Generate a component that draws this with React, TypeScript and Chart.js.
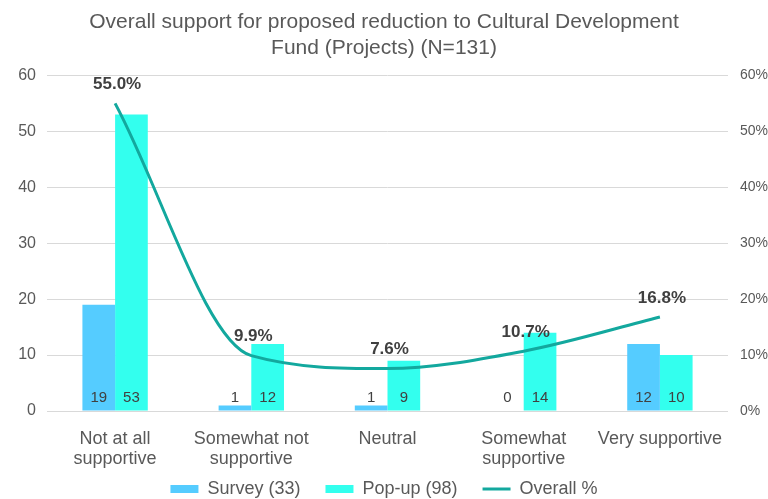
import React, { useEffect, useRef } from "react";
import { Chart, registerables } from "chart.js";

Chart.register(...registerables);

const categories: (string | string[])[] = [
  ["Not at all", "supportive"],
  ["Somewhat not", "supportive"],
  "Neutral",
  ["Somewhat", "supportive"],
  "Very supportive",
];
const surveyValues = [19, 1, 1, 0, 12];
const popupValues = [53, 12, 9, 14, 10];
const overallPct = [55.0, 9.9, 7.6, 10.7, 16.8];
const titleLines = [
  "Overall support for proposed reduction to Cultural Development",
  "Fund (Projects) (N=131)",
];

const FONT = "'Liberation Sans', Arial, sans-serif";
const GRAY = "#595959";
const DARK = "#404040";

const labelsPlugin = {
  id: "valueLabels",
  afterDatasetsDraw(chart: any) {
    const ctx = chart.ctx;
    ctx.save();
    ctx.textAlign = "center";
    ctx.textBaseline = "middle";
    [0, 1].forEach((di) => {
      const meta = chart.getDatasetMeta(di);
      const ds = chart.data.datasets[di];
      ctx.font = `15px ${FONT}`;
      ctx.fillStyle = DARK;
      meta.data.forEach((el: any, i: number) => {
        ctx.fillText(String(ds.data[i]), el.x, el.base - 13);
      });
    });
    const lm = chart.getDatasetMeta(2);
    const lds = chart.data.datasets[2];
    ctx.font = `bold 17px ${FONT}`;
    ctx.fillStyle = DARK;
    lm.data.forEach((el: any, i: number) => {
      ctx.fillText((lds.data[i] as number).toFixed(1) + "%", el.x + 2, el.y - 19);
    });
    ctx.restore();
  },
};

export default function App() {
  const ref = useRef<HTMLCanvasElement>(null);
  useEffect(() => {
    document.body.style.margin = "0";
    const chart = new Chart(ref.current!, {
      type: "bar",
      data: {
        labels: categories,
        datasets: [
          {
            type: "bar",
            label: "Survey (33)",
            data: surveyValues,
            backgroundColor: "#55CCFF",
            borderWidth: 0,
            yAxisID: "y",
            pointStyle: "rect",
            order: 2,
          } as any,
          {
            type: "bar",
            label: "Pop-up (98)",
            data: popupValues,
            backgroundColor: "#33FFEE",
            borderWidth: 0,
            yAxisID: "y",
            pointStyle: "rect",
            order: 2,
          } as any,
          {
            type: "line",
            label: "Overall %",
            data: overallPct,
            borderColor: "#13A89E",
            backgroundColor: "#13A89E",
            borderWidth: 3,
            pointRadius: 0,
            pointStyle: "line",
            cubicInterpolationMode: "monotone",
            yAxisID: "y1",
            order: 1,
          } as any,
        ],
      },
      options: {
        animation: false,
        responsive: true,
        maintainAspectRatio: false,
        layout: { padding: { left: 0, right: 0, top: 0, bottom: -9 } },
        datasets: { bar: { barPercentage: 1, categoryPercentage: 0.48 } },
        plugins: {
          title: {
            display: true,
            text: titleLines,
            color: GRAY,
            font: { family: FONT, size: 21, weight: "normal", lineHeight: 1.2 },
            padding: { top: 10, bottom: 15 },
          },
          legend: {
            position: "bottom",
            labels: {
              usePointStyle: true,
              pointStyleWidth: 28,
              boxHeight: 8,
              color: GRAY,
              font: { family: FONT, size: 18 },
              padding: 10,
              sort: (a: any, b: any) => a.datasetIndex - b.datasetIndex,
              generateLabels: (c: any) => {
                const items = Chart.defaults.plugins.legend.labels.generateLabels(c);
                return items.map((it: any) =>
                  it.datasetIndex < 2 ? { ...it, text: it.text + "   " } : it
                );
              },
            },
          },
          tooltip: { enabled: false },
        },
        scales: {
          x: {
            grid: { display: false },
            border: { display: false },
            ticks: {
              color: GRAY,
              font: { family: FONT, size: 18, lineHeight: 1.1 },
              maxRotation: 0,
              autoSkip: false,
              padding: 10,
            },
            afterFit: (scale: any) => {
              scale.paddingLeft = 0;
              scale.paddingRight = 0;
              scale.height = 59;
            },
          },
          y: {
            position: "left",
            min: 0,
            max: 60,
            ticks: { stepSize: 10, color: GRAY, font: { family: FONT, size: 16 }, padding: 11 },
            grid: { color: "#D9D9D9", lineWidth: 1, drawTicks: false },
            border: { display: false },
            afterFit: (scale: any) => {
              scale.width = 47;
            },
          },
          y1: {
            position: "right",
            min: 0,
            max: 60,
            ticks: {
              stepSize: 10,
              color: GRAY,
              font: { family: FONT, size: 14 },
              padding: 12,
              callback: (v: any) => v + "%",
            },
            grid: { display: false, drawTicks: false },
            border: { display: false },
            afterFit: (scale: any) => {
              scale.width = 40;
            },
          },
        },
      },
      plugins: [labelsPlugin],
    });
    return () => chart.destroy();
  }, []);
  return (
    <div style={{ position: "fixed", left: 0, top: 0, width: 768, height: 499 }}>
      <canvas ref={ref} />
    </div>
  );
}
